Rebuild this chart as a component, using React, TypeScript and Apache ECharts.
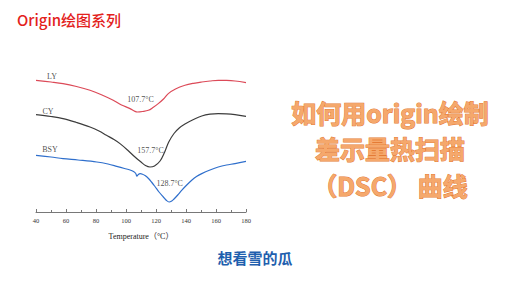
import React, { useEffect, useRef } from "react";
import * as echarts from "echarts";

// Temperature (°C) / relative heat-flow readings (arbitrary units, offset stacked)
const LY_T = [40, 50, 58, 67, 76, 84, 91.5, 97, 102.7, 105.5, 107.7, 111, 114.9, 118, 121.5, 125, 128.2, 133, 139.3, 145, 150.5, 156, 161.5, 167, 172.7, 180];
const LY_V = [131.7, 130, 128.4, 125.5, 121.7, 117, 111.7, 107, 103.4, 101, 100, 100.5, 101.7, 104.5, 108.4, 113, 118.4, 123, 126.7, 128.7, 130, 131, 131.7, 131.6, 131, 129.4];

const CY_T = [40, 50, 58, 67, 76, 82, 87, 92, 96, 101, 106, 110, 113, 116, 119, 122.7, 125.5, 128.5, 132, 135.5, 139.3, 145, 150.5, 156, 161.5, 167, 172.7, 180];
const CY_V = [97.4, 95.5, 93.4, 89.5, 85, 81, 76.7, 72.5, 68.4, 62, 55, 50, 46.5, 45, 46, 51, 59, 70, 78.5, 84, 88, 92.5, 96, 97.8, 98.4, 98.2, 97.4, 95.7];

const BSY_T = [40, 50, 58, 68, 80.5, 88, 93.8, 99, 102.7, 105, 106.5, 107.3, 108.2, 109.5, 111, 112.7, 115, 117, 119.3, 122, 124.9, 127, 128.7, 130.5, 132, 134.5, 137.1, 140.5, 143.8, 147, 150.5, 156, 161.5, 167, 172.7, 180];
const BSY_V = [56.7, 55, 53.4, 52, 50, 48, 45.7, 43.5, 42, 40.5, 38.5, 35.8, 37.5, 38.3, 37.8, 36.5, 33.5, 30, 25.5, 20, 15, 11.5, 10, 11, 13, 17, 21.7, 27, 31.7, 35.5, 38.4, 42, 45, 47, 48.4, 50.7];

const SERIES_NAMES = ["LY", "CY", "BSY"];
const PEAK_TEXT = ["107.7°C", "157.7°C", "128.7°C"];
// annotation anchors in data coordinates [temperature, value]
const NAME_ANCHORS = [[50.7, 136], [48, 101], [49.3, 62.7]];
const PEAK_ANCHORS = [[109.7, 112.5], [116.3, 61.3], [129.1, 28.7]];

const TITLE_LINES = ["如何用origin绘制", "差示量热扫描", "（DSC） 曲线"];

const X_MIN = 40;
const X_MAX = 180;
const X_INTERVAL = 20;

const zip = (t: number[], v: number[]) => t.map((x, i) => [x, v[i]]);

export default function App() {
  const ref = useRef<HTMLDivElement>(null);
  useEffect(() => {
    if (!ref.current) return;
    const chart = echarts.init(ref.current, undefined, { renderer: "svg" });
    const serif = "'Liberation Serif', 'Noto Sans CJK SC', serif";
    const lineSeries = (name: string, data: number[][], color: string) => ({
      type: "line",
      name,
      data,
      smooth: 0.35,
      showSymbol: false,
      symbol: "none",
      lineStyle: { color, width: 1.2 },
      silent: true,
    });
    const textSeries = (anchors: number[][], texts: string[]) => ({
      type: "scatter",
      symbolSize: 1,
      itemStyle: { color: "rgba(0,0,0,0)" },
      silent: true,
      data: anchors.map((a, i) => ({ value: a, name: texts[i] })),
      label: {
        show: true,
        position: "inside",
        formatter: (p: any) => p.name,
        fontFamily: serif,
        fontSize: 8,
        color: "#222",
      },
    });
    chart.setOption({
      animation: false,
      backgroundColor: "#ffffff",
      grid: { left: 36, right: 274, top: 72, bottom: 81 },
      xAxis: {
        type: "value",
        min: X_MIN,
        max: X_MAX,
        interval: X_INTERVAL,
        name: "Temperature（°C）",
        nameLocation: "middle",
        nameGap: 20,
        nameTextStyle: { fontFamily: serif, fontSize: 8, color: "#222" },
        axisLine: { show: true, lineStyle: { color: "#555", width: 0.8 } },
        axisTick: { show: true, inside: true, length: 3, lineStyle: { color: "#555", width: 0.8 } },
        minorTick: { show: true, splitNumber: 2, length: 2, lineStyle: { color: "#555", width: 0.8 } },
        axisLabel: { fontFamily: serif, fontSize: 6.5, color: "#333", margin: 5 },
        splitLine: { show: false },
      },
      yAxis: {
        type: "value",
        min: 0,
        max: 140,
        show: false,
        splitLine: { show: false },
      },
      series: [
        lineSeries("LY", zip(LY_T, LY_V), "#dc4a58"),
        lineSeries("CY", zip(CY_T, CY_V), "#3c3c3c"),
        lineSeries("BSY", zip(BSY_T, BSY_V), "#2f6fcc"),
        textSeries(NAME_ANCHORS, SERIES_NAMES),
        textSeries(PEAK_ANCHORS, PEAK_TEXT),
      ],
      graphic: [
        {
          type: "text",
          left: 17,
          top: 12,
          style: {
            text: "Origin绘图系列",
            fontFamily: "'Noto Sans CJK SC', 'Noto Sans', sans-serif",
            fontSize: 15,
            fontWeight: 500,
            fill: "#e3211c",
          },
        },
        ...TITLE_LINES.map((t, i) => ({
          type: "text",
          x: 390,
          y: 111.5 + i * 36.5,
          style: {
            text: t,
            textAlign: "center",
            textVerticalAlign: "middle",
            fontFamily: "'Noto Sans CJK SC', sans-serif",
            fontSize: 25,
            lineHeight: 28,
            fontWeight: "bold",
            fill: "#f5a86c",
            stroke: "#e47b36",
            lineWidth: 1,
          },
        })),
        {
          type: "text",
          x: 255,
          y: 257,
          style: {
            text: "想看雪的瓜",
            textAlign: "center",
            textVerticalAlign: "middle",
            fontFamily: "'Noto Sans CJK SC', sans-serif",
            fontSize: 15,
            fontWeight: "bold",
            fill: "#1f5fae",
          },
        },
      ],
    });
    return () => chart.dispose();
  }, []);
  return (
    <div
      ref={ref}
      style={{ position: "fixed", left: 0, top: 0, width: 520, height: 293, background: "#fff" }}
    />
  );
}
